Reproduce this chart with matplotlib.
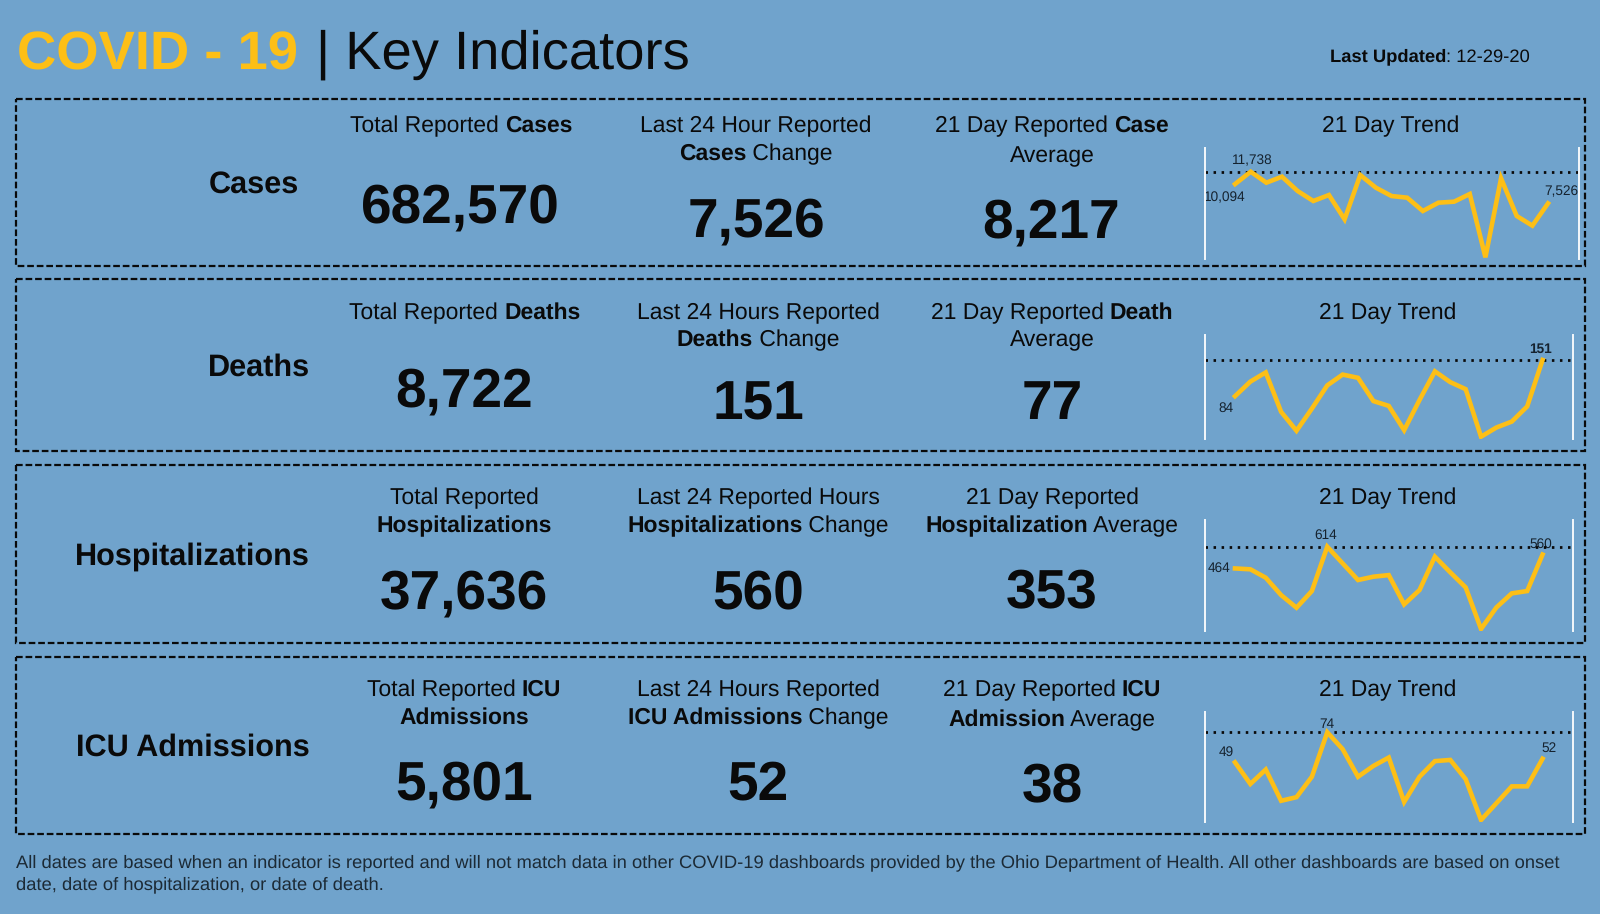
import matplotlib
matplotlib.use("Agg")
import matplotlib.pyplot as plt
from matplotlib.patches import Rectangle

plt.rcParams['font.family'] = ['Liberation Sans', 'DejaVu Sans']
plt.rcParams['text.hinting'] = 'no_hinting'

W, H = 1600, 914
BG = '#70a3cc'
GOLD = '#fdbf16'
INK = '#0a0a0a'

rows = ['Cases', 'Deaths', 'Hospitalizations', 'ICU Admissions']
totals = ['682,570', '8,722', '37,636', '5,801']
last_24 = ['7,526', '151', '560', '52']
averages = ['8,217', '77', '353', '38']

cases_trend = [10094, 11738, 10276, 11073, 9169, 7840, 8637, 5403, 11295, 9612, 8504,
               8282, 6511, 7618, 7751, 8770, 353, 10852, 5846, 4561, 7526]
deaths_trend = [84, 111, 128, 55, 20, 61, 104, 124, 118, 75, 66,
                21, 77, 130, 110, 97, 9, 26, 37, 65, 151]
hosp_trend = [464, 458, 400, 280, 193, 308, 614, 499, 384, 407, 418,
              216, 315, 545, 437, 333, 46, 195, 292, 308, 560]
icu_trend = [49, 31, 43, 17, 20, 37, 74, 60, 37, 46, 53,
             16, 37, 50, 51, 35, 1, 15, 29, 29, 52]
trends = [cases_trend, deaths_trend, hosp_trend, icu_trend]

# (left, top, right, bottom) of the dashed boxes, pixels
boxes = [(16, 99, 1585, 266), (16, 279, 1585, 451), (16, 465, 1585, 643), (16, 657, 1585, 834)]
# trend axes: left, top, right, bottom px, and px y of max / min of line
spark = [(1205, 148, 1579, 259, 171.7, 257.3),
         (1205, 335, 1573, 439, 360, 436.7),
         (1205, 520, 1573, 631, 546.7, 629),
         (1205, 712, 1573, 822, 732.3, 820)]
spark_x0 = [-1.92, -1.95, -1.95, -1.95]
spark_x1 = [21.98, 21.98, 21.98, 21.98]

fig = plt.figure(figsize=(W / 100, H / 100), dpi=100, facecolor=BG)
bg = fig.add_axes([0, 0, 1, 1])
bg.set_xlim(0, W)
bg.set_ylim(H, 0)
bg.axis('off')


def txt(x, y, s, size, weight='normal', ha='center', color=INK):
    return bg.text(x, y, s, fontsize=size, fontweight=weight, ha=ha, va='center', color=color)


def rich(cx, y, parts, size):
    # mixed regular/bold line, centred on cx, all on one baseline
    r = fig.canvas.get_renderer()
    base = y + size * 0.5
    items = [bg.text(0, base, s, fontsize=size, fontweight=w, ha='left', va='baseline', color=INK) for s, w in parts]
    widths = [t.get_window_extent(r).width for t in items]
    x = cx - sum(widths) / 2
    for t, w in zip(items, widths):
        t.set_x(x)
        x += w


# title
bg.text(17, 69, 'COVID - 19', fontsize=39.2, fontweight='bold', color=GOLD, ha='left', va='baseline')
bg.text(316, 69, '| Key Indicators', fontsize=39.2, color=INK, ha='left', va='baseline')
rich(1430, 55, [('Last Updated', 'bold'), (': 12-29-20', 'normal')], 13.2)

for x0, y0, x1, y1 in boxes:
    bg.add_patch(Rectangle((x0, y0), x1 - x0, y1 - y0, fill=False, ec=INK, lw=1.6, ls=(0, (3, 1.3))))

label_x = [299, 310, 310, 310]
label_y = [185, 368, 557, 748]
for i, name in enumerate(rows):
    txt(label_x[i], label_y[i], name, 22.1, 'bold', ha='right')

SUB = 16.5
rich(461, 124, [('Total Reported ', 'normal'), ('Cases', 'bold')], SUB)
rich(756, 124, [('Last 24 Hour Reported', 'normal')], SUB)
rich(756, 152, [('Cases', 'bold'), (' Change', 'normal')], SUB)
rich(1052, 124, [('21 Day Reported ', 'normal'), ('Case', 'bold')], SUB)
rich(1052, 154, [('Average', 'normal')], SUB)

rich(465, 311, [('Total Reported ', 'normal'), ('Deaths', 'bold')], SUB)
rich(758, 311, [('Last 24 Hours Reported', 'normal')], SUB)
rich(758, 338, [('Deaths', 'bold'), (' Change', 'normal')], SUB)
rich(1052, 311, [('21 Day Reported ', 'normal'), ('Death', 'bold')], SUB)
rich(1052, 338, [('Average', 'normal')], SUB)

rich(464, 496, [('Total Reported', 'normal')], SUB)
rich(464, 524, [('Hospitalizations', 'bold')], SUB)
rich(758, 496, [('Last 24 Reported Hours', 'normal')], SUB)
rich(758, 524, [('Hospitalizations', 'bold'), (' Change', 'normal')], SUB)
rich(1052, 496, [('21 Day Reported', 'normal')], SUB)
rich(1052, 524, [('Hospitalization', 'bold'), (' Average', 'normal')], SUB)

rich(464, 688, [('Total Reported ', 'normal'), ('ICU', 'bold')], SUB)
rich(464, 716, [('Admissions', 'bold')], SUB)
rich(758, 688, [('Last 24 Hours Reported', 'normal')], SUB)
rich(758, 716, [('ICU Admissions', 'bold'), (' Change', 'normal')], SUB)
rich(1052, 688, [('21 Day Reported ', 'normal'), ('ICU', 'bold')], SUB)
rich(1052, 718, [('Admission', 'bold'), (' Average', 'normal')], SUB)

BIG = 39.6
total_pos = [(460, 208), (464, 392), (464, 594), (464, 785)]
last_pos = [(756, 222), (758, 405), (758, 594), (758, 785)]
avg_pos = [(1051, 223), (1052, 405), (1052, 594), (1052, 788)]
for i in range(4):
    txt(*total_pos[i], totals[i], BIG, 'bold')
    txt(*last_pos[i], last_24[i], BIG, 'bold')
    txt(*avg_pos[i], averages[i], BIG, 'bold')

trend_title = [(1391, 124), (1388, 311), (1388, 496), (1388, 688)]
for x, y in trend_title:
    rich(x, y, [('21 Day Trend', 'normal')], SUB)

# sparklines, y limits worked out so the line sits where it does in the panel
for i, vals in enumerate(trends):
    left, top, right, bot, py_max, py_min = spark[i]
    ax = fig.add_axes([left / W, 1 - bot / H, (right - left) / W, (bot - top) / H])
    ax.patch.set_alpha(0)
    vmax, vmin = max(vals), min(vals)
    per_px = (vmax - vmin) / (py_min - py_max)
    ax.set_ylim(vmin - (bot - py_min) * per_px, vmax + (py_max - top) * per_px)
    ax.set_xlim(spark_x0[i], spark_x1[i])
    ax.axhline(vmax, color=INK, lw=2, ls=(0, (0.9, 2)), zorder=1)
    ax.plot(range(21), vals, color=GOLD, lw=3.3, solid_joinstyle='miter', zorder=2)
    ax.set_xticks([])
    ax.set_yticks([])
    for s in ['top', 'bottom']:
        ax.spines[s].set_visible(False)
    for s in ['left', 'right']:
        ax.spines[s].set_color('#f4f8fb')
        ax.spines[s].set_linewidth(1.4)

SMALL = 9.8
DARK = '#15222e'
spark_labels = [
    [(1252, 161, '11,738'), (1225, 198, '10,094'), (1561, 192, '7,526')],
    [(1226, 408, '84'), (1541, 349, '151')],
    [(1219, 568, '464'), (1326, 535, '614'), (1541, 544, '560')],
    [(1226, 752, '49'), (1327, 724, '74'), (1549, 748, '52')],
]
for labs in spark_labels:
    for x, y, s in labs:
        txt(x, y, s, SMALL, 'bold' if s == '151' else 'normal', color=DARK)

note_color = '#1c2a35'
bg.text(16, 863, 'All dates are based when an indicator is reported and will not match data in other COVID-19 dashboards '
        'provided by the Ohio Department of Health. All other dashboards are based on onset',
        fontsize=13.2, color=note_color, ha='left', va='center')
bg.text(16, 885, 'date, date of hospitalization, or date of death.', fontsize=13.2, color=note_color, ha='left', va='center')

fig.savefig('out.png', dpi=100, facecolor=BG)
